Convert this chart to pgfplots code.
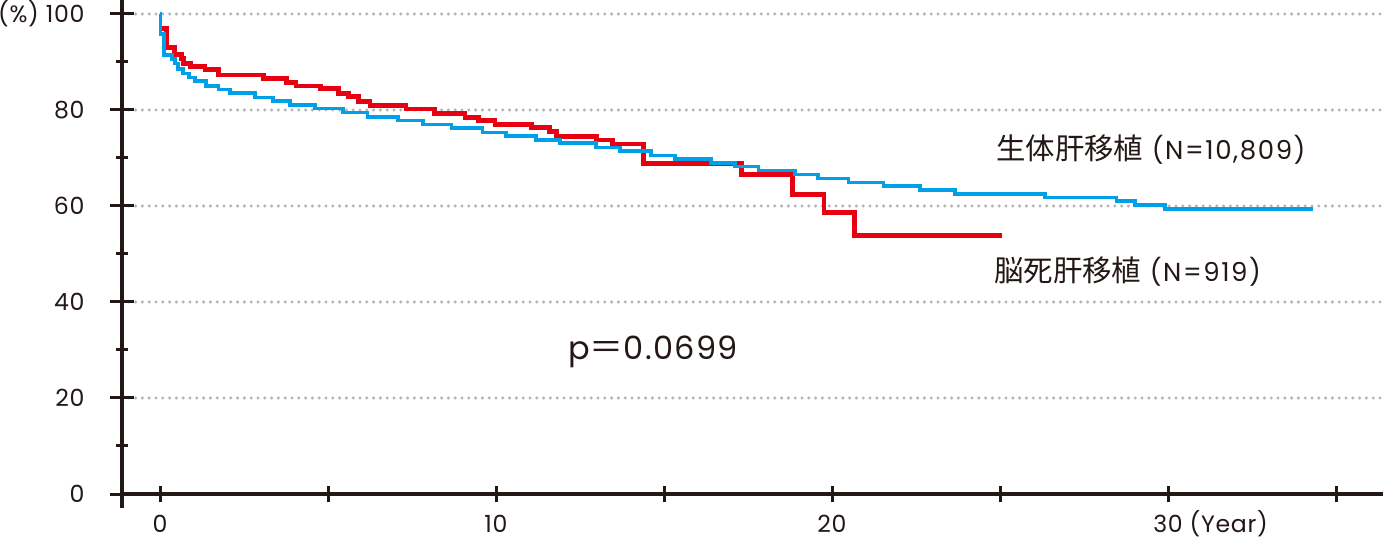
\documentclass[border=0pt]{standalone}
\usepackage{fontspec}
\setmainfont{Poppins}
\newfontfamily\jp{Noto Sans CJK JP}
\usepackage{pgfplots}
\pgfplotsset{compat=1.18}
\definecolor{kmred}{HTML}{E60012}
\definecolor{kmblue}{HTML}{00A0E9}
\definecolor{gridgray}{HTML}{B5B5B5}
\definecolor{axisblack}{HTML}{231815}
\pgfplotsset{
  kmbase/.style={
    scale only axis, width=630.5bp, height=247bp,
    xmin=-1.131, xmax=36.399, ymin=0, ymax=102.917,
    tick align=outside,
    every tick/.style={line width=1.5bp, axisblack},
    tick label style={font=\fontsize{11.8bp}{13bp}\selectfont\addfontfeatures{LetterSpace=3}, text=axisblack},
    /pgf/number format/assume math mode=true,
  },
}
\begin{document}
\begin{tikzpicture}
\useasboundingbox (-61bp,-22bp) rectangle (630.5bp,247bp);
% y axis and curves
\begin{axis}[kmbase,
  axis y line=left, axis x line=none,
  axis line style={line width=1.8bp, axisblack, -},
  xtick=\empty,
  ytick={0,20,...,100}, minor ytick={10,30,...,90},
  yticklabels={0,20,40,60,80,(\%) 100},
  yticklabel style={xshift=-9.5bp},
  major tick length=11.5bp, minor tick length=6bp,
  ymajorgrids,
  major grid style={gridgray, line width=1.7bp, dash pattern=on 0pt off 3.4bp, line cap=round},
  clip=false,
]
\draw[line width=1.8bp, axisblack] (rel axis cs:0,0) -- ++(0pt,-7bp);
% deceased donor (red)
\addplot[const plot mark left, kmred, line width=2.4bp] coordinates {
(0.05,97.0) (0.20,93.0) (0.42,91.5) (0.63,90.8) (0.69,89.7)
(0.91,89.0) (1.34,88.5) (1.74,87.3) (3.07,86.6) (3.77,85.7) (4.05,85.0)
(4.78,84.4) (5.31,83.5) (5.61,82.8) (5.90,81.7) (6.25,80.9) (7.32,80.2)
(8.18,79.3) (9.08,78.5) (9.47,77.8) (9.97,77.0) (11.06,76.3) (11.59,75.5)
(11.81,74.4) (13.00,73.75) (13.47,72.9) (14.40,68.9) (17.31,66.5)
(18.82,62.4) (19.76,58.6) (20.68,53.8) (25.05,53.8)
};
% living donor (blue)
\addplot[const plot mark left, kmblue, line width=1.8bp] coordinates {
(0,100) (0.02,95.8) (0.12,91.5) (0.35,90.6) (0.45,89.7) (0.54,88.5)
(0.69,87.6) (0.87,86.8) (1.04,86.0) (1.37,85.0) (1.74,84.3) (2.08,83.5)
(2.83,82.6) (3.37,81.9) (3.87,81.0) (4.61,80.3) (5.45,79.5) (6.17,78.6)
(7.09,77.8) (7.82,77.0) (8.68,76.25) (9.60,75.35) (10.30,74.6) (11.19,73.75)
(11.90,73.1) (12.98,72.15) (13.69,71.4) (14.61,70.5) (15.33,69.8) (16.40,69.0)
(17.11,68.2) (17.81,67.4) (18.90,66.6) (19.59,65.75) (20.49,64.9) (21.53,64.2)
(22.62,63.3) (23.66,62.5) (26.34,61.8) (28.47,61.1) (29.02,60.2) (29.91,59.4)
(34.32,59.4)
};
\node[anchor=west, inner sep=0pt, text=axisblack, font=\fontsize{13bp}{15bp}\selectfont\addfontfeatures{LetterSpace=6}]
  at (axis cs:24.88,71.7) {{\jp\fontsize{14.7bp}{15bp}\selectfont 生体肝移植} (N=10,809)};
\node[anchor=west, inner sep=0pt, text=axisblack, font=\fontsize{13bp}{15bp}\selectfont\addfontfeatures{LetterSpace=6}]
  at (axis cs:24.82,46.25) {{\jp\fontsize{14.7bp}{15bp}\selectfont 脳死肝移植} (N=919)};
\node[anchor=west, inner sep=0pt, text=axisblack, font=\fontsize{16bp}{18bp}\selectfont\addfontfeatures{LetterSpace=4}]
  at (axis cs:12.14,29.6) {p{\jp\fontsize{17bp}{18bp}\selectfont ＝}0.0699};
\end{axis}
% x axis
\begin{axis}[kmbase,
  axis x line=bottom, axis y line=none,
  axis line style={line width=1.8bp, axisblack, -},
  xtick={0,10,20,30}, minor xtick={5,15,25,35},
  xticklabels={0,10,20,30\rlap{\smash{ (Year)}}},
  xticklabel style={yshift=-3bp},
  ytick=\empty,
  major tick length=8bp, minor tick length=8bp,
]
\end{axis}
\end{tikzpicture}
\end{document}
